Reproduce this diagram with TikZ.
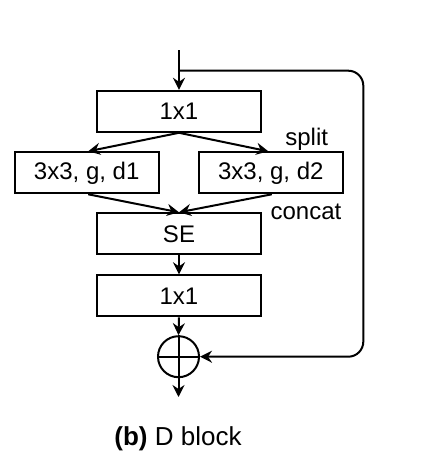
\documentclass[tikz,border=0pt]{standalone}
\usepackage{fontspec}
\setmainfont{Liberation Sans}
\usetikzlibrary{arrows.meta}
\begin{document}
\begin{tikzpicture}[x=1pt,y=-1pt,
  blk/.style={draw, line width=2pt, inner sep=0pt, minimum height=41pt, font=\fontsize{24}{28}\selectfont},
  conn/.style={line width=2pt, -{Stealth[length=12pt,width=12pt,inset=4pt]}},
  lbl/.style={font=\fontsize{24}{28}\selectfont, inner sep=0pt}]
\useasboundingbox (0,0) rectangle (426,471);
\coordinate (in) at (179,50);
\coordinate (sk) at (179,70.7);
\node[blk, minimum width=164pt] (b1) at (179,111.3) {1x1};
\node[blk, minimum width=144pt] (l) at (86.7,172.8) {3x3, g, d1};
\node[blk, minimum width=144pt] (r) at (270.8,172.8) {3x3, g, d2};
\node[blk, minimum width=164pt] (se) at (179,233.8) {SE};
\node[blk, minimum width=164pt] (b2) at (179,295.8) {1x1};
\node[draw, circle, line width=2pt, minimum size=41pt, inner sep=0pt] (add) at (178.5,356.7) {};
\draw[line width=2pt] (add.north) -- (add.south) (add.west) -- (add.east);
\coordinate (out) at (178.5,397);
\node[lbl] (split) at (306.7,139) {split};
\node[lbl] (concat) at (306,211.7) {concat};
\node[font=\fontsize{26}{30}\selectfont, inner sep=0pt] (cap) at (178,439) {\textbf{(b)} D block};
\draw[conn] (in) -- (b1.north);
\draw[conn] (b1.south) -- ([xshift=1.5pt]l.north);
\draw[conn] (b1.south) -- ([xshift=-2.5pt]r.north);
\draw[conn] ([xshift=1.5pt]l.south) -- (se.north);
\draw[conn] ([xshift=1pt]r.south) -- (se.north);
\draw[conn] (se.south) -- (b2.north);
\draw[conn] (b2.south) -- (add.north);
\draw[conn] (add.south) -- (out);
\draw[conn, rounded corners=15pt] (sk) -- (363.3,70.7) -- (363.3,356.7) -- (add.east);
\end{tikzpicture}
\end{document}
